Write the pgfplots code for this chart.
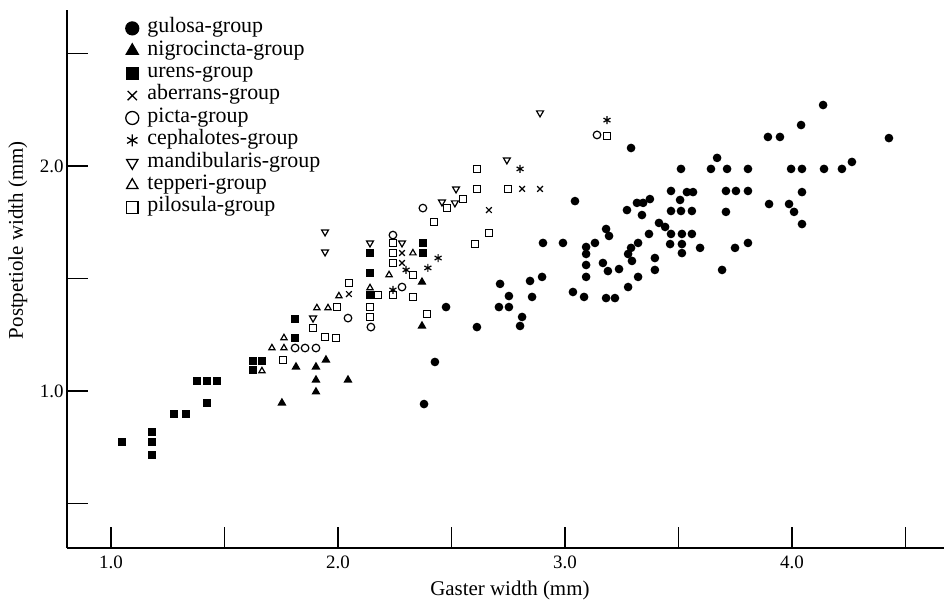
\documentclass[border=0pt]{standalone}
\usepackage{pgfplots}
\pgfplotsset{compat=1.18}
\usepackage{fontspec}
\setmainfont{Liberation Serif}
\begin{document}
\begin{tikzpicture}
\begin{axis}[
  scale only axis, width=877bp, height=538bp,
  xmin=0.8062, xmax=4.6696, ymin=0.3022, ymax=2.6933,
  axis x line=bottom, axis y line=left,
  axis line style={-, line width=1.8bp, black},
  tick align=inside, major tick length=21bp,
  tick style={line width=1.3bp, black},
  xtick={1,1.5,2,2.5,3,3.5,4,4.5}, xticklabels={1.0,{},2.0,{},3.0,{},4.0,{}},
  ytick={0.5,1,1.5,2,2.5}, yticklabels={{},1.0,{},2.0,{}},
  tick label style={font=\fontsize{19}{22}\selectfont},
  xticklabel style={yshift=-4bp},
  label style={font=\fontsize{21}{24}\selectfont},
  xlabel={Gaster width (mm)}, ylabel={Postpetiole width (mm)},
  xlabel style={at={(axis description cs:0.505,-0.079)}, anchor=center},
  ylabel style={at={(axis description cs:-0.056,0.572)}, anchor=center},
  legend style={draw=none, fill=none, at={(axis description cs:0.066,0.987)}, anchor=north west,
    inner sep=0pt, font=\fontsize{22}{24}\selectfont, row sep=0pt,
    nodes={inner sep=0pt, text height=15.5bp, text depth=6.9bp},
    /tikz/every odd column/.append style={column sep=8bp}},
  legend cell align=left,
  legend image code/.code={\path (-7bp,0bp) (7bp,0bp); \draw[#1] plot coordinates {(0bp,0bp)};},
  every axis plot/.append style={only marks, black, mark options={line width=1.2bp}},
]
% gulosa
\addplot[mark=*, mark size=3.7bp, forget plot] coordinates {
(2.379,0.942)(2.427,1.129)(2.476,1.373)(2.612,1.284)(2.709,1.373)(2.753,1.373)(2.811,1.329)(2.802,1.289)
(2.714,1.476)(2.753,1.422)(2.855,1.418)(2.846,1.489)(2.899,1.507)(2.903,1.658)(2.991,1.658)(3.044,1.844)
(3.093,1.640)(3.093,1.609)(3.132,1.658)(3.093,1.560)(3.093,1.507)(3.035,1.440)(3.084,1.418)(3.181,1.720)
(3.194,1.689)(3.167,1.569)(3.189,1.533)(3.238,1.542)(3.181,1.413)(3.220,1.413)(3.278,1.462)(3.322,1.507)
(3.291,2.080)(3.273,1.804)(3.317,1.836)(3.344,1.836)(3.374,1.853)(3.339,1.782)(3.370,1.698)(3.414,1.747)
(3.441,1.729)(3.322,1.658)(3.291,1.636)(3.278,1.609)(3.295,1.578)(3.396,1.591)(3.396,1.538)(3.467,1.889)
(3.537,1.884)(3.564,1.884)(3.507,1.849)(3.467,1.800)(3.511,1.800)(3.559,1.800)(3.467,1.698)(3.515,1.698)
(3.559,1.698)(3.463,1.653)(3.515,1.653)(3.515,1.613)(3.595,1.636)(3.511,1.987)(3.643,1.987)(3.714,1.987)
(3.806,1.987)(3.670,2.036)(3.709,1.889)(3.753,1.889)(3.806,1.889)(3.709,1.796)(3.692,1.538)(3.749,1.636)
(3.806,1.658)(3.894,2.129)(3.947,2.129)(4.040,2.182)(4.137,2.271)(4.427,2.124)(3.996,1.987)(4.044,1.987)
(4.141,1.987)(4.220,1.987)(4.264,2.018)(4.044,1.884)(3.899,1.831)(3.987,1.831)(4.009,1.796)(4.044,1.742)
};
% nigrocincta
\addplot[mark=triangle*, mark size=4bp, forget plot] coordinates {
(1.753,0.947)(1.815,1.107)(1.903,1.107)(1.947,1.138)(1.903,1.049)(1.903,0.996)(2.044,1.049)(2.370,1.484)(2.370,1.289)
};
% urens
\addplot[mark=square*, mark size=3.3bp, forget plot] coordinates {
(1.048,0.773)(1.181,0.818)(1.181,0.773)(1.181,0.716)(1.278,0.898)(1.330,0.898)(1.423,0.947)(1.379,1.044)
(1.423,1.044)(1.467,1.044)(1.626,1.133)(1.665,1.133)(1.626,1.093)(1.811,1.320)(1.811,1.236)(2.141,1.613)
(2.141,1.524)(2.141,1.427)(2.374,1.658)(2.374,1.613)
};
% aberrans
\addplot[mark=x, mark size=4bp, forget plot] coordinates {
(2.048,1.431)(2.282,1.613)(2.282,1.569)(2.665,1.804)(2.811,1.898)(2.890,1.898)
};
% picta
\addplot[mark=o, mark size=3.8bp, forget plot] coordinates {
(1.811,1.191)(1.855,1.191)(1.903,1.191)(2.044,1.324)(2.145,1.284)(2.282,1.462)(3.141,2.138)(2.242,1.693)(2.374,1.813)
};
% cephalotes
\addplot[mark=asterisk, mark size=4bp, forget plot] coordinates {
(3.185,2.204)(2.802,1.987)(2.441,1.591)(2.396,1.547)(2.300,1.538)(2.242,1.449)
};
% mandibularis
\addplot[mark=triangle, mark size=4bp, mark options={rotate=180, line width=1.2bp}, forget plot] coordinates {
(1.943,1.707)(1.943,1.618)(1.890,1.324)(2.141,1.658)(2.282,1.658)(2.458,1.840)(2.515,1.836)(2.520,1.898)(2.744,2.027)(2.890,2.236)
};
% tepperi
\addplot[mark=triangle, mark size=3.6bp, forget plot] coordinates {
(1.665,1.089)(1.709,1.191)(1.762,1.191)(1.762,1.236)(1.907,1.369)(1.956,1.369)(2.004,1.422)(2.141,1.458)(2.225,1.516)(2.330,1.613)
};
% pilosula
\addplot[mark=square, mark size=3.4bp, forget plot] coordinates {
(1.758,1.138)(1.996,1.373)(1.890,1.280)(1.943,1.240)(1.991,1.236)(2.048,1.480)(2.141,1.373)(2.141,1.329)
(2.176,1.427)(2.242,1.427)(2.330,1.418)(2.392,1.342)(2.242,1.658)(2.242,1.613)(2.242,1.569)(2.330,1.516)
(2.423,1.751)(2.480,1.813)(2.551,1.853)(2.612,1.987)(2.612,1.898)(2.749,1.898)(2.665,1.702)(2.604,1.653)(3.185,2.133)
};
\addlegendimage{only marks, black, mark=*, mark size=6.5bp}
\addlegendentry{gulosa-group}
\addlegendimage{only marks, black, mark=triangle*, mark size=7bp}
\addlegendentry{nigrocincta-group}
\addlegendimage{only marks, black, mark=square*, mark size=5.8bp}
\addlegendentry{urens-group}
\addlegendimage{only marks, black, mark=x, mark size=6.5bp, mark options={line width=1.3bp}}
\addlegendentry{aberrans-group}
\addlegendimage{only marks, black, mark=o, mark size=6.5bp, mark options={line width=1.3bp}}
\addlegendentry{picta-group}
\addlegendimage{only marks, black, mark=asterisk, mark size=6bp, mark options={line width=1.3bp}}
\addlegendentry{cephalotes-group}
\addlegendimage{only marks, black, mark=triangle, mark size=6.5bp, mark options={rotate=180, line width=1.3bp}}
\addlegendentry{mandibularis-group}
\addlegendimage{only marks, black, mark=triangle, mark size=6.5bp, mark options={line width=1.3bp}}
\addlegendentry{tepperi-group}
\addlegendimage{only marks, black, mark=square, mark size=5.8bp, mark options={line width=1.3bp}}
\addlegendentry{pilosula-group}
\end{axis}
\pgfresetboundingbox
\path[use as bounding box] (-67bp,-54bp) rectangle (877bp,548bp);
\end{tikzpicture}
\end{document}
